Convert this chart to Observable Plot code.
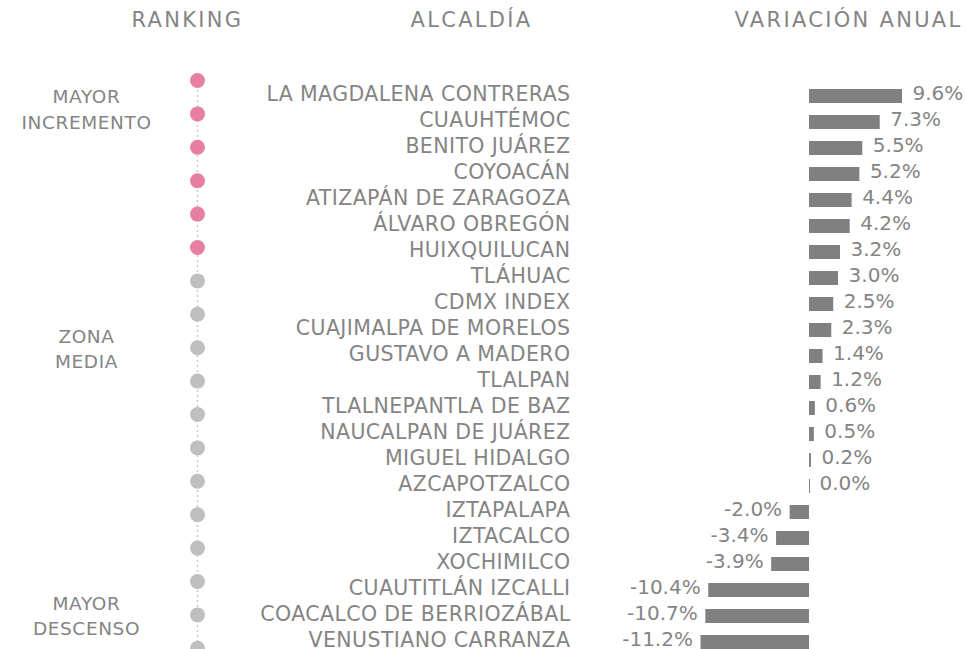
<!DOCTYPE html>
<html>
<head>
<meta charset="utf-8">
<script src="https://cdn.jsdelivr.net/npm/d3@7"></script>
<script src="https://cdn.jsdelivr.net/npm/@observablehq/plot@0.6"></script>
<style>
  html, body { margin: 0; padding: 0; background: #fff; }
  #wrap { position: relative; width: 965px; height: 649px; overflow: hidden; }
  #wrap svg { position: absolute; left: 0; top: 0; }
</style>
</head>
<body>
<div id="wrap"></div>
<script>
const alcaldias = [
  "LA MAGDALENA CONTRERAS", "CUAUHTÉMOC", "BENITO JUÁREZ", "COYOACÁN",
  "ATIZAPÁN DE ZARAGOZA", "ÁLVARO OBREGÓN", "HUIXQUILUCAN", "TLÁHUAC",
  "CDMX INDEX", "CUAJIMALPA DE MORELOS", "GUSTAVO A MADERO", "TLALPAN",
  "TLALNEPANTLA DE BAZ", "NAUCALPAN DE JUÁREZ", "MIGUEL HIDALGO", "AZCAPOTZALCO",
  "IZTAPALAPA", "IZTACALCO", "XOCHIMILCO", "CUAUTITLÁN IZCALLI",
  "COACALCO DE BERRIOZÁBAL", "VENUSTIANO CARRANZA"
];
const variacion = [9.6, 7.3, 5.5, 5.2, 4.4, 4.2, 3.2, 3.0, 2.5, 2.3, 1.4, 1.2,
  0.6, 0.5, 0.2, 0.0, -2.0, -3.4, -3.9, -10.4, -10.7, -11.2];
const ranking = d3.range(1, 23);
const grupoRanking = ranking.map(r => r <= 6 ? "MAYOR INCREMENTO" : "OTRO");
const encabezados = ["RANKING", "ALCALDÍA", "VARIACIÓN ANUAL"];
const grupos = ["MAYOR\nINCREMENTO", "ZONA\nMEDIA", "MAYOR\nDESCENSO"];

const rows = alcaldias.map((name, i) => ({name, value: variacion[i], rank: ranking[i], group: grupoRanking[i]}));
const FONT = "'DejaVu Sans', sans-serif";
const GRAY = "#848484";
const wrap = document.getElementById("wrap");

// Ranking column (dots)
const rankPlot = Plot.plot({
  width: 965, height: 649,
  marginLeft: 0, marginRight: 571, marginTop: 0, marginBottom: 0,
  style: {fontFamily: FONT, background: "transparent", overflow: "visible"},
  x: {type: "point", domain: ["RANKING"], range: [197, 197], axis: null},
  y: {domain: [1, 22], range: [80, 80 + 21 * 33.4], axis: null},
  color: {domain: ["MAYOR INCREMENTO", "OTRO"], range: ["#e77fa3", "#bfbfbf"]},
  marks: [
    Plot.ruleX(["RANKING"], {y1: 1, y2: 22, stroke: "#c8c8c8", strokeWidth: 1.5, strokeDasharray: "2,3"}),
    Plot.dot(rows, {x: () => "RANKING", y: "rank", r: 7.5, fill: "group", stroke: "none"})
  ]
});
wrap.appendChild(rankPlot);

const txt = {fill: GRAY, fontWeight: 400};

// Bars + labels
const barPlot = Plot.plot({
  width: 965, height: 649,
  marginLeft: 0, marginRight: 395, marginTop: 0, marginBottom: 0,
  style: {fontFamily: FONT, background: "transparent", overflow: "visible"},
  x: {domain: [-11.2, 9.6], range: [809 - 11.2 * 9.69, 809 + 9.6 * 9.69], axis: null},
  y: {type: "band", domain: alcaldias, range: [83, 655], paddingInner: 0.46, paddingOuter: 0.23, axis: null},
  marks: [
    Plot.barX(rows, {x: "value", y: "name", fill: "#808080"}),
    Plot.tickX(rows.filter(d => d.value === 0), {x: "value", y: "name", stroke: "#808080", strokeWidth: 1}),
    Plot.text(rows, {y: "name", text: "name", frameAnchor: "right", textAnchor: "end", dy: -2.5, fontSize: 20.5, ...txt}),
    Plot.text(rows.filter(d => d.value >= 0), {x: "value", y: "name", text: d => d.value.toFixed(1) + "%",
      textAnchor: "start", dx: 10, dy: -3, fontSize: 20, ...txt}),
    Plot.text(rows.filter(d => d.value < 0), {x: "value", y: "name", text: d => d.value.toFixed(1) + "%",
      textAnchor: "end", dx: -8, dy: -3, fontSize: 20, ...txt}),
    // headers
    Plot.text([encabezados[0]], {text: d => d, frameAnchor: "top-left", lineAnchor: "middle", dx: 187, dy: 20, textAnchor: "middle", fontSize: 21, ...txt}),
    Plot.text([encabezados[1]], {text: d => d, frameAnchor: "top-left", lineAnchor: "middle", dx: 471, dy: 20, textAnchor: "middle", fontSize: 21, ...txt}),
    Plot.text([encabezados[2]], {text: d => d, frameAnchor: "top-left", lineAnchor: "middle", dx: 848, dy: 20, textAnchor: "middle", fontSize: 21, ...txt}),
    // group labels
    Plot.text([grupos[0]], {text: d => d, frameAnchor: "top-left", lineAnchor: "middle", dx: 86, dy: 107.5, textAnchor: "middle", lineHeight: 1.38, fontSize: 18.5, ...txt}),
    Plot.text([grupos[1]], {text: d => d, frameAnchor: "top-left", lineAnchor: "middle", dx: 86, dy: 347, textAnchor: "middle", lineHeight: 1.38, fontSize: 18.5, ...txt}),
    Plot.text([grupos[2]], {text: d => d, frameAnchor: "top-left", lineAnchor: "middle", dx: 86, dy: 614, textAnchor: "middle", lineHeight: 1.38, fontSize: 18.5, ...txt})
  ]
});
wrap.appendChild(barPlot);

// letter spacing to approximate the wide geometric typeface of the original
d3.select(barPlot).selectAll("text")
  .filter(function() { return alcaldias.includes(this.textContent); })
  .style("letter-spacing", "0.4px");
d3.select(barPlot).selectAll("text")
  .filter(function() { return encabezados.includes(this.textContent); })
  .style("letter-spacing", "2.3px");
d3.select(barPlot).selectAll("text")
  .filter(function() { return /^(MAYOR|ZONA)/.test(this.textContent); })
  .style("letter-spacing", "0.6px");
</script>
</body>
</html>
